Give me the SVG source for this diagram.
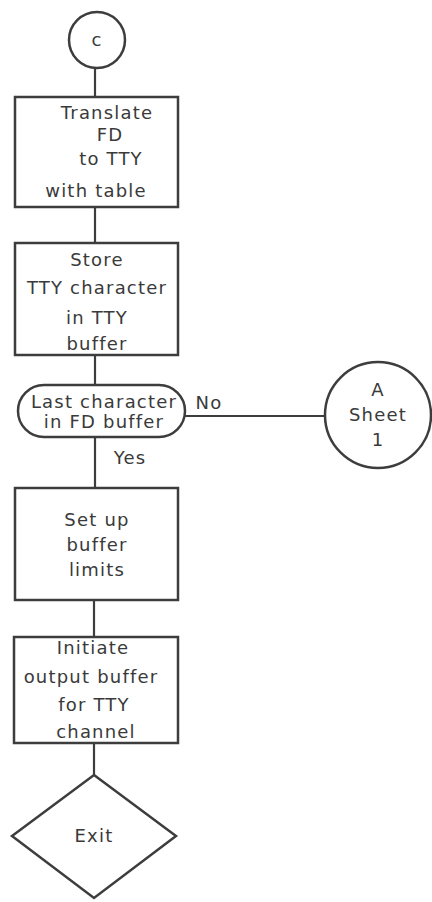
<svg xmlns="http://www.w3.org/2000/svg" width="432" height="902" viewBox="0 0 432 902">
  <style>
    .shape { fill: none; stroke: #3d3d3d; stroke-width: 2.5; }
    .wire { fill: none; stroke: #3d3d3d; stroke-width: 2.2; }
    text { font-family: "DejaVu Sans", "Liberation Sans", sans-serif; font-size: 18px; letter-spacing: 1.2px; fill: #3a3a3a; text-anchor: middle; }
  </style>
  <rect width="432" height="902" fill="#ffffff"/>

  <g id="connectors">
    <line class="wire" x1="95" y1="68" x2="95" y2="97"/>
    <line class="wire" x1="95" y1="207" x2="95" y2="243"/>
    <line class="wire" x1="95" y1="355" x2="95" y2="385"/>
    <line class="wire" x1="95" y1="437" x2="95" y2="488"/>
    <line class="wire" x1="94" y1="600" x2="94" y2="637"/>
    <line class="wire" x1="94" y1="743" x2="94" y2="775"/>
    <line class="wire" x1="185" y1="416" x2="325" y2="416"/>
    <text x="209" y="409">No</text>
    <text x="130" y="464">Yes</text>
  </g>

  <g id="connector-c">
    <circle class="shape" cx="97" cy="40" r="28"/>
    <text x="97" y="46">c</text>
  </g>

  <g id="translate">
    <rect class="shape" x="15" y="97" width="163" height="110"/>
    <text x="107" y="119">Translate</text>
    <text x="110" y="141">FD</text>
    <text x="111" y="165">to TTY</text>
    <text x="96" y="197">with table</text>
  </g>

  <g id="store">
    <rect class="shape" x="15" y="243" width="163" height="112"/>
    <text x="97" y="266">Store</text>
    <text x="97" y="294">TTY character</text>
    <text x="97" y="324">in TTY</text>
    <text x="97" y="350">buffer</text>
  </g>

  <g id="last-char">
    <rect class="shape" x="18" y="385" width="167" height="52" rx="26" ry="26"/>
    <text x="104" y="408">Last character</text>
    <text x="104" y="428">in FD buffer</text>
  </g>

  <g id="connector-a">
    <circle class="shape" cx="378" cy="415" r="53"/>
    <text x="378" y="396">A</text>
    <text x="378" y="421">Sheet</text>
    <text x="378" y="446">1</text>
  </g>

  <g id="set-limits">
    <rect class="shape" x="15" y="488" width="163" height="112"/>
    <text x="97" y="526">Set up</text>
    <text x="97" y="551">buffer</text>
    <text x="97" y="576">limits</text>
  </g>

  <g id="initiate">
    <rect class="shape" x="14" y="637" width="164" height="106"/>
    <text x="93" y="654">Initiate</text>
    <text x="91" y="683">output buffer</text>
    <text x="94" y="711">for TTY</text>
    <text x="96" y="738">channel</text>
  </g>

  <g id="exit">
    <polygon class="shape" points="94,775 176,836 94,898 12,836"/>
    <text x="94" y="842">Exit</text>
  </g>
</svg>
